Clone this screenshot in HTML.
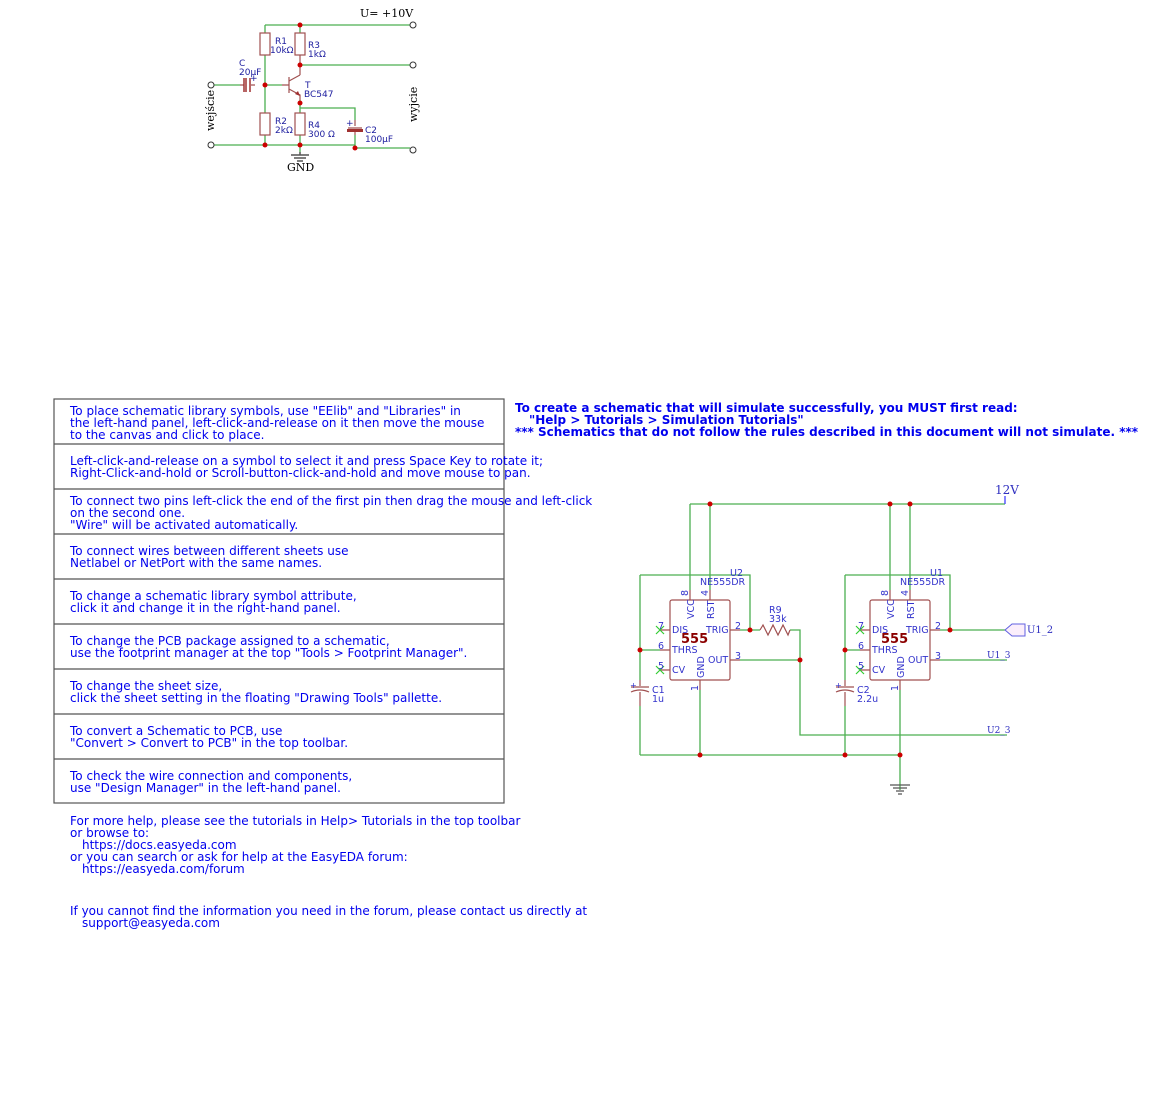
<!DOCTYPE html>
<html><head><meta charset="utf-8"><style>
html,body{margin:0;padding:0;background:#fff;}
svg{display:block;font-family:"DejaVu Sans","Liberation Sans",sans-serif;}
text{white-space:pre}
.w{stroke:#4caf50;stroke-width:1.3;fill:none}
.p{stroke:#a05050;stroke-width:1.2;fill:none}
.j{fill:#cc0000}
.t{fill:#0000ee;font-size:12px}
.b{fill:#0000ee;font-size:12px;font-weight:bold}
.s{fill:#2020a0;font-size:9px}
.n{fill:#3333cc;font-size:9.5px}
.sf{font-family:"DejaVu Serif","Liberation Serif",serif;}
</style></head><body>
<svg width="1169" height="1096" viewBox="0 0 1169 1096" xmlns="http://www.w3.org/2000/svg" xml:space="preserve">
<!-- top amplifier circuit -->
<g>
<path class="w" d="M265 25H410 M300 25V33 M265 25V33 M300 65H410 M214 85H240 M265 55V113 M265 85H282 M300 100V113 M300 108H355V120 M214 145H355 M265 135V145 M300 135V152 M355 135V148 M355 148H410"/>
<g class="p" stroke="#a03030">
<rect x="260" y="33" width="10" height="22"/><rect x="295" y="33" width="10" height="22"/>
<rect x="260" y="113" width="10" height="22"/><rect x="295" y="113" width="10" height="22"/>
<path d="M300 55V75 M282 85H289 M289 77V93 M289 81L300 75 M289 89L300 95V100 M240 85H244 M251 85H255 M348 128H362 M355 120V126 M355 131V135"/>
</g>
<path d="M244 78V92M246 78V92" stroke="#a03030" stroke-width="1.5"/>
<path d="M250 78V92" stroke="#a03030" stroke-width="1.5"/>
<rect x="347" y="129" width="16" height="3" fill="#a03030"/>
<path d="M300 96L295 94L298 91Z" fill="#a03030"/>
<g fill="#fff" stroke="#333" stroke-width="1"><circle cx="211" cy="85" r="3"/><circle cx="211" cy="145" r="3"/><circle cx="413" cy="25" r="3"/><circle cx="413" cy="65" r="3"/><circle cx="413" cy="150" r="3"/></g>
<path d="M300 152V155 M291 155H309 M294 158H306 M297 161H303" stroke="#555" stroke-width="1.5"/>
<g class="j"><circle cx="300" cy="25" r="2.5"/><circle cx="300" cy="65" r="2.5"/><circle cx="265" cy="85" r="2.5"/><circle cx="300" cy="103" r="2.5"/><circle cx="265" cy="145" r="2.5"/><circle cx="300" cy="145" r="2.5"/><circle cx="355" cy="148" r="2.5"/></g>
<text class="s" x="275" y="44">R1</text><text class="s" x="270" y="53">10kΩ</text>
<text class="s" x="308" y="48">R3</text><text class="s" x="308" y="57">1kΩ</text>
<text class="s" x="239" y="66">C</text><text class="s" x="239" y="75">20µF</text>
<text class="s" x="250" y="81" font-size="8">+</text>
<text class="s" x="305" y="88">T</text><text class="s" x="304" y="97">BC547</text>
<text class="s" x="275" y="124">R2</text><text class="s" x="275" y="133">2kΩ</text>
<text class="s" x="308" y="128">R4</text><text class="s" x="308" y="137">300 Ω</text>
<text class="s" x="346" y="126" font-size="8">+</text>
<text class="s" x="365" y="133">C2</text><text class="s" x="365" y="142">100µF</text>
<text class="sf" x="360" y="17" font-size="11">U= +10V</text>
<text class="sf" x="287" y="171" font-size="11">GND</text>
<text class="sf" font-size="11" transform="translate(214,131) rotate(-90)">wejście</text>
<text class="sf" font-size="11" transform="translate(417,122) rotate(-90)">wyjcie</text>
</g>

<!-- help box -->
<rect x="54" y="399" width="450" height="404" fill="none" stroke="#555" stroke-width="1.2"/>
<path d="M54 444H504M54 489H504M54 534H504M54 579H504M54 624H504M54 669H504M54 714H504M54 759H504" stroke="#555" stroke-width="1.2"/>
<g class="t">
<text x="70" y="415">To place schematic library symbols, use "EElib" and "Libraries" in</text>
<text x="70" y="427">the left-hand panel, left-click-and-release on it then move the mouse</text>
<text x="70" y="439">to the canvas and click to place.</text>
<text x="70" y="465">Left-click-and-release on a symbol to select it and press Space Key to rotate it;</text>
<text x="70" y="477">Right-Click-and-hold or Scroll-button-click-and-hold and move mouse to pan.</text>
<text x="70" y="505">To connect two pins left-click the end of the first pin then drag the mouse and left-click</text>
<text x="70" y="517">on the second one.</text>
<text x="70" y="529">"Wire" will be activated automatically.</text>
<text x="70" y="555">To connect wires between different sheets use</text>
<text x="70" y="567">Netlabel or NetPort with the same names.</text>
<text x="70" y="600">To change a schematic library symbol attribute,</text>
<text x="70" y="612">click it and change it in the right-hand panel.</text>
<text x="70" y="645">To change the PCB package assigned to a schematic,</text>
<text x="70" y="657">use the footprint manager at the top "Tools &gt; Footprint Manager".</text>
<text x="70" y="690">To change the sheet size,</text>
<text x="70" y="702">click the sheet setting in the floating "Drawing Tools" pallette.</text>
<text x="70" y="735">To convert a Schematic to PCB, use</text>
<text x="70" y="747">"Convert &gt; Convert to PCB" in the top toolbar.</text>
<text x="70" y="780">To check the wire connection and components,</text>
<text x="70" y="792">use "Design Manager" in the left-hand panel.</text>
<text x="70" y="825">For more help, please see the tutorials in Help&gt; Tutorials in the top toolbar</text>
<text x="70" y="837">or browse to:</text>
<text x="82" y="849">https://docs.easyeda.com</text>
<text x="70" y="861">or you can search or ask for help at the EasyEDA forum:</text>
<text x="82" y="873">https://easyeda.com/forum</text>
<text x="70" y="915">If you cannot find the information you need in the forum, please contact us directly at</text>
<text x="82" y="927">support@easyeda.com</text>
</g>
<g class="b">
<text x="515" y="412">To create a schematic that will simulate successfully, you MUST first read:</text>
<text x="529" y="424">"Help &gt; Tutorials &gt; Simulation Tutorials"</text>
<text x="515" y="436">*** Schematics that do not follow the rules described in this document will not simulate. ***</text>
</g>

<!-- 555 circuit -->
<path class="w" d="M690 504H1005 M690 504V590 M710 504V590 M890 504V590 M910 504V590
M640 575H750V630 M640 575V680 M640 706V755 M640 650H660 M740 630H760 M790 630H800V735H1007 M740 660H800 M700 690V755 M640 755H900V790
M845 575H950V630 M845 575V680 M845 706V755 M845 650H860 M940 630H1005 M940 660H1007 M900 690V755"/>
<path d="M1005 496V504" stroke="#4040ff" stroke-width="1.3"/>
<text class="sf" x="995" y="494" font-size="12" fill="#3030c0">12V</text>
<g class="p" fill="none">
<rect x="670" y="600" width="60" height="80" rx="2"/>
<rect x="870" y="600" width="60" height="80" rx="2"/>
<path d="M690 590V600M710 590V600M660 630H670M660 650H670M660 670H670M730 630H740M730 660H740M700 680V690
M890 590V600M910 590V600M860 630H870M860 650H870M860 670H870M930 630H940M930 660H940M900 680V690
M760 630L763 625L768 635L773 625L778 635L783 625L788 635L790 630
M640 680V686 M631 687H649 M631 692Q640 688 649 692 M640 692V706
M845 680V686 M836 687H854 M836 692Q845 688 854 692 M845 692V706"/>
</g>
<g stroke="#3c3" stroke-width="1.2"><path d="M656 626l8 8M664 626l-8 8M656 666l8 8M664 666l-8 8M856 626l8 8M864 626l-8 8M856 666l8 8M864 666l-8 8"/></g>
<g class="j"><circle cx="710" cy="504" r="2.5"/><circle cx="890" cy="504" r="2.5"/><circle cx="910" cy="504" r="2.5"/><circle cx="750" cy="630" r="2.5"/><circle cx="640" cy="650" r="2.5"/><circle cx="800" cy="660" r="2.5"/><circle cx="700" cy="755" r="2.5"/><circle cx="845" cy="755" r="2.5"/><circle cx="900" cy="755" r="2.5"/><circle cx="950" cy="630" r="2.5"/><circle cx="845" cy="650" r="2.5"/></g>
<path d="M1005 630L1012 624H1025V636H1012Z" fill="#fbeefb" stroke="#6060e0" stroke-width="1"/>
<text class="sf" x="1027" y="633" font-size="10" fill="#3030c0">U1_2</text>
<text class="sf" x="987" y="658" font-size="9" fill="#3030c0">U1_3</text>
<text class="sf" x="987" y="733" font-size="9" fill="#3030c0">U2_3</text>
<path d="M890 785H910M893 788H907M896 791H904M898 794H902" stroke="#555" stroke-width="1.2"/>
<g class="n">
<text x="730" y="576">U2</text><text x="700" y="585">NE555DR</text>
<text x="930" y="576">U1</text><text x="900" y="585">NE555DR</text>
<text x="769" y="613">R9</text><text x="769" y="622">33k</text>
<text x="652" y="693">C1</text><text x="652" y="702">1u</text>
<text x="857" y="693">C2</text><text x="857" y="702">2.2u</text>
<text x="672" y="633">DIS</text><text x="672" y="653">THRS</text><text x="672" y="673">CV</text><text x="706" y="633">TRIG</text><text x="708" y="663">OUT</text>
<text x="872" y="633">DIS</text><text x="872" y="653">THRS</text><text x="872" y="673">CV</text><text x="906" y="633">TRIG</text><text x="908" y="663">OUT</text>
<text x="658" y="629">7</text><text x="658" y="649">6</text><text x="658" y="669">5</text><text x="735" y="629">2</text><text x="735" y="659">3</text>
<text x="858" y="629">7</text><text x="858" y="649">6</text><text x="858" y="669">5</text><text x="935" y="629">2</text><text x="935" y="659">3</text>
<text transform="translate(694,619) rotate(-90)">VCC</text><text transform="translate(714,619) rotate(-90)">RST</text><text transform="translate(704,678) rotate(-90)">GND</text>
<text transform="translate(894,619) rotate(-90)">VCC</text><text transform="translate(914,619) rotate(-90)">RST</text><text transform="translate(904,678) rotate(-90)">GND</text>
<text transform="translate(688,596) rotate(-90)">8</text><text transform="translate(708,596) rotate(-90)">4</text><text transform="translate(698,691) rotate(-90)">1</text>
<text transform="translate(888,596) rotate(-90)">8</text><text transform="translate(908,596) rotate(-90)">4</text><text transform="translate(898,691) rotate(-90)">1</text>
<text x="630" y="688" font-size="8">+</text><text x="835" y="688" font-size="8">+</text>
</g>
<text x="681" y="643" font-size="13" font-weight="bold" fill="#8b0000">555</text>
<text x="881" y="643" font-size="13" font-weight="bold" fill="#8b0000">555</text>
</svg>
</body></html>
